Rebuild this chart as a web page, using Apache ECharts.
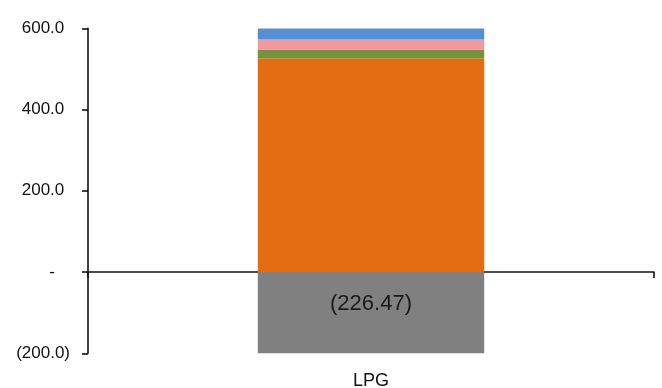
<!DOCTYPE html>
<html>
<head>
<meta charset="utf-8">
<script src="https://cdn.jsdelivr.net/npm/echarts@6/dist/echarts.min.js"></script>
<style>
  html, body { margin: 0; padding: 0; background: #fff; }
  #chart { width: 662px; height: 388px; }
</style>
</head>
<body>
<div id="chart"></div>
<script>
// Category and stacked component values
const categories = ['LPG'];
const negativePart = [-226.47];
const orangePart = [526];
const greenPart = [22];
const pinkPart = [24.6];
const bluePart = [27];

// Value axis range
const yMin = -200;
const yMax = 600;
const yStep = 200;

const FONT = '"Liberation Sans", Arial, sans-serif';
const AXIS_FONT_SIZE = 17;

// Accounting-style labels: positives leave room for the closing parenthesis,
// zero shows a dash set one digit further in.
function fmtAxis(v) {
  if (v === 0) return '{t|-}{zero| }';
  if (v < 0) return '{t|(' + Math.abs(v).toFixed(1) + ')}';
  return '{t|' + v.toFixed(1) + '}{paren| }';
}
function fmtLabel(v) {
  return v < 0 ? '(' + Math.abs(v).toFixed(2) + ')' : v.toFixed(2);
}

const chart = echarts.init(document.getElementById('chart'), null, { renderer: 'canvas' });

function barSeries(name, data, color, extra) {
  return Object.assign({
    name: name,
    type: 'bar',
    stack: 'total',
    xAxisIndex: 0,
    data: data,
    barWidth: '40%',
    itemStyle: { color: color },
    emphasis: { disabled: true },
    animation: false
  }, extra || {});
}

chart.setOption({
  animation: false,
  grid: { left: 88, right: 8, top: 28.3, bottom: 34.7, containLabel: false, outerBoundsMode: 'none' },
  xAxis: [
    {
      type: 'category',
      data: categories,
      position: 'bottom',
      axisLine: { show: false, onZero: false },
      axisTick: { show: false },
      axisLabel: { color: '#111', fontFamily: FONT, fontSize: 18, margin: 19 }
    },
    {
      type: 'category',
      data: categories,
      position: 'bottom',
      axisLine: { show: true, onZero: true, lineStyle: { color: '#111', width: 1.6 } },
      axisTick: { show: true, length: 6, lineStyle: { color: '#111', width: 1.6 } },
      axisLabel: { show: false }
    }
  ],
  yAxis: {
    type: 'value',
    min: yMin,
    max: yMax,
    interval: yStep,
    axisLine: { show: true, onZero: false, lineStyle: { color: '#111', width: 1.6 } },
    axisTick: { show: true, length: 6, lineStyle: { color: '#111', width: 1.6 } },
    splitLine: { show: false },
    axisLabel: {
      color: '#111',
      fontFamily: FONT,
      fontSize: AXIS_FONT_SIZE,
      margin: 18,
      formatter: fmtAxis,
      rich: {
        t: { color: '#111', fontFamily: FONT, fontSize: AXIS_FONT_SIZE },
        paren: { fontFamily: FONT, fontSize: AXIS_FONT_SIZE, width: 5.7 },
        zero: { fontFamily: FONT, fontSize: AXIS_FONT_SIZE, width: 15.2 }
      }
    }
  },
  series: [
    barSeries('negative', negativePart, '#808080', {
      label: {
        show: true,
        position: 'insideTop',
        distance: 21,
        color: '#1a1a1a',
        fontFamily: FONT,
        fontSize: 22,
        formatter: p => fmtLabel(p.value)
      }
    }),
    barSeries('orange', orangePart, '#E46C13'),
    barSeries('green', greenPart, '#77933C'),
    barSeries('pink', pinkPart, '#F09A9F'),
    barSeries('blue', bluePart, '#558ED5')
  ]
});
</script>
</body>
</html>
